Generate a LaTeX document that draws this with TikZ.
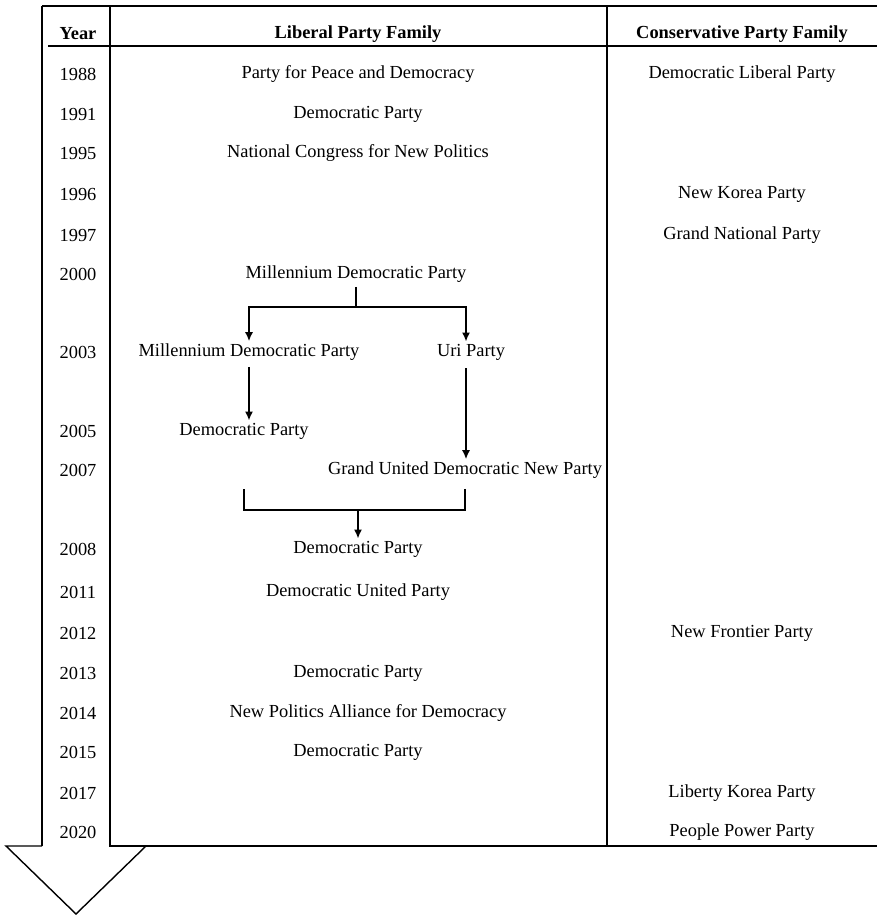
\documentclass[tikz,border=0pt]{standalone}
\usepackage{fontspec}
\setmainfont{Liberation Serif}
\usetikzlibrary{arrows.meta,positioning,calc}

\begin{document}
\begin{tikzpicture}[x=0.5pt,y=-0.5pt,
    every node/.style={font=\fontsize{9.2}{11}\selectfont,inner sep=1pt},
    rule/.style={line width=1pt},
    wire/.style={line width=0.8pt},
    link/.style={wire,-{Latex[length=4.5pt,width=4pt]}}]
                \useasboundingbox (0,0) rectangle (877,915);
                \draw[rule] (42,6) -- (877,6);
                \draw[rule] (48,46) -- (877,46);
                \draw[rule] (42,6) -- (42,846);
                \draw[rule] (110,6) -- (110,846) -- (877,846);
                \draw[rule] (607,6) -- (607,846);
                \draw[line width=0.7pt] (42,846) -- (6,846) -- (76,914) -- (146,846) -- (110,846);
                \node (hyear) at (78,34) {\textbf{Year}};
                \node (hlib) at (358,34) {\textbf{Liberal Party Family}};
                \node (hcon) at (742,34) {\textbf{Conservative Party Family}};
                \foreach \yr/\ypos in {1988/74,1991/114,1995/153,1996/194,1997/235,2000/274,2003/352,2005/431,2007/470,2008/549,2011/592,2012/633,2013/673,2014/713,2015/752,2017/793,2020/832}
                    \node (y\yr) at (78,\ypos) {\yr};
                \node (ppd) at (358,74) {Party for Peace and Democracy};
                \node (dp91) at (358,114) {Democratic Party};
                \node (ncnp) at (358,153) {National Congress for New Politics};
                \node (mdp00) at (356,274) {Millennium Democratic Party};
                \node (mdp03) at (249,352) {Millennium Democratic Party};
                \node (uri) at (471,352) {Uri Party};
                \node (dp05) at (244,431) {Democratic Party};
                \node (gudnp) at (465,470) {Grand United Democratic New Party};
                \node (dp08) at (358,549) {Democratic Party};
                \node (dup) at (358,592) {Democratic United Party};
                \node (dp13) at (358,673) {Democratic Party};
                \node (npad) at (368,713) {New Politics Alliance for Democracy};
                \node (dp15) at (358,752) {Democratic Party};
                \node (dlp) at (742,74) {Democratic Liberal Party};
                \node (nkp) at (742,194) {New Korea Party};
                \node (gnp) at (742,235) {Grand National Party};
                \node (nfp) at (742,633) {New Frontier Party};
                \node (lkp) at (742,793) {Liberty Korea Party};
                \node (ppp) at (742,832) {People Power Party};
                \coordinate (split) at ($(mdp00.south)+(0,-11pt)$);
                \draw[wire] ([yshift=-1pt]mdp00.south) -- (split);
                \draw[link] (split) -| (mdp03.north);
                \draw[link] (split) -| ([xshift=-2.5pt]uri.north);
                \draw[link] ([yshift=-2pt]mdp03.south) -- (mdp03.south |- dp05.north);
                \draw[link] ([xshift=-2.5pt,yshift=-3pt]uri.south) -- ([xshift=-2.5pt]uri.south |- gudnp.north);
                \coordinate (join) at (0,510);
                \draw[wire] ([yshift=-4pt]gudnp.south) |- (dp05 |- join) -- ([yshift=-4pt]dp05 |- gudnp.south);
                \draw[link] (dp08 |- join) -- (dp08.north);
            \end{tikzpicture}
\end{document}
